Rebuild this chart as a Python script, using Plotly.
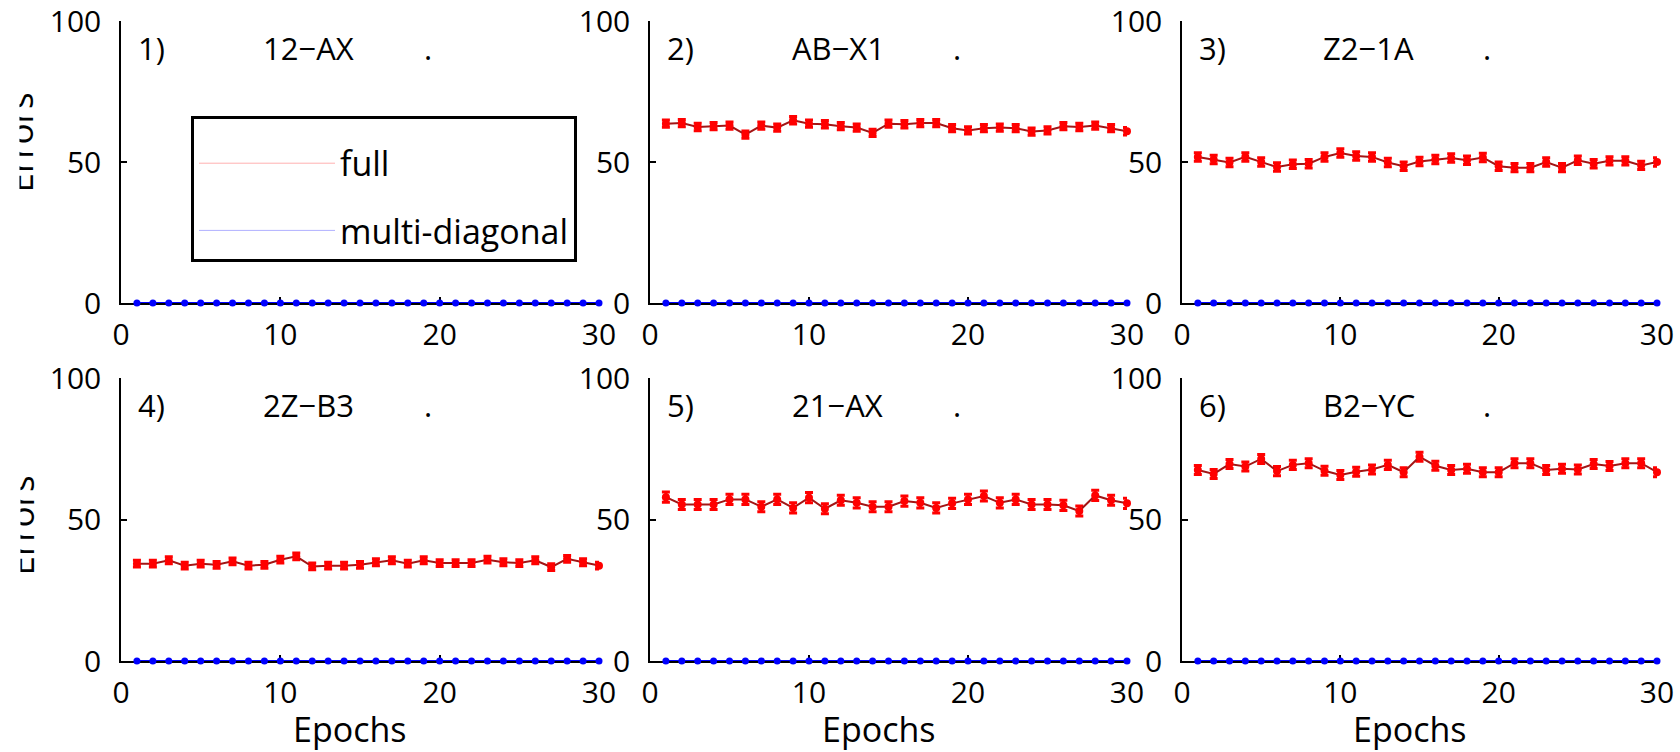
import plotly.graph_objects as go

# ---------------- data ----------------
epochs = list(range(1, 31))

panel_numbers = ["1)", "2)", "3)", "4)", "5)", "6)"]
panel_names = ["12\u2212AX", "AB\u2212X1", "Z2\u22121A", "2Z\u2212B3", "21\u2212AX", "B2\u2212YC"]

full_p1 = []  # panel 1 shows no "full" curve
full_p2 = [63.6, 63.8, 62.4, 62.7, 62.9, 59.7, 62.9, 62.2, 64.8, 63.6,
           63.4, 62.7, 62.2, 60.3, 63.6, 63.4, 63.8, 63.8, 62.0, 61.2,
           62.0, 62.2, 62.0, 60.8, 61.2, 62.7, 62.4, 62.9, 62.0, 60.9]
full_p3 = [51.8, 50.9, 49.8, 51.8, 50.0, 48.2, 49.2, 49.4, 51.8, 53.2,
           52.1, 51.8, 49.8, 48.5, 50.2, 50.9, 51.4, 50.6, 51.6, 48.5,
           48.0, 48.0, 50.0, 48.0, 50.6, 49.4, 50.4, 50.4, 48.8, 50.0]
full_p4 = [34.4, 34.4, 35.6, 33.7, 34.4, 34.0, 35.2, 33.7, 34.0, 35.8,
           37.0, 33.4, 33.7, 33.7, 34.0, 34.9, 35.6, 34.4, 35.6, 34.6,
           34.6, 34.6, 35.8, 34.9, 34.6, 35.6, 33.2, 36.1, 34.9, 33.7]
full_p5 = [57.9, 55.3, 55.3, 55.3, 57.1, 57.1, 54.5, 57.1, 54.1, 57.7,
           53.8, 56.8, 55.9, 54.5, 54.5, 56.5, 55.9, 54.1, 55.7, 57.1,
           58.3, 55.9, 57.1, 55.3, 55.3, 55.0, 53.0, 58.5, 56.8, 55.7]
full_p6 = [67.5, 66.1, 69.6, 68.7, 71.4, 67.1, 69.3, 69.9, 67.2, 65.7,
           66.9, 67.7, 69.3, 66.7, 72.2, 69.0, 67.5, 67.9, 66.7, 66.7,
           69.9, 69.9, 67.5, 67.9, 67.7, 69.6, 68.9, 69.9, 69.9, 66.7]
full_series = [full_p1, full_p2, full_p3, full_p4, full_p5, full_p6]
full_error = [0.0, 1.3, 1.5, 1.2, 1.8, 1.6]

multi_diagonal = [0, 0, 0, 0, 0, 0, 0, 0, 0, 0,
                  0, 0, 0, 0, 0, 0, 0, 0, 0, 0,
                  0, 0, 0, 0, 0, 0, 0, 0, 0, 0]

x_ticks = [0, 10, 20, 30]
y_ticks = [0, 50, 100]

# ---------------- layout helpers ----------------
W, H = 1680, 752
FONT = "Open Sans"
col_px = [(121, 599), (650, 1127), (1182, 1657)]
row_px = [(21, 303), (378, 661)]  # (top, bottom)


def fx(px):
    return px / W


def fy(py):
    return 1 - py / H


fig = go.Figure()

RED = "#ff0000"
RED_LINE = "#a31515"
BLUE = "#0000ff"

for i in range(6):
    xa = "x" if i == 0 else f"x{i+1}"
    ya = "y" if i == 0 else f"y{i+1}"
    fig.add_trace(go.Scatter(
        x=epochs, y=multi_diagonal, mode="lines+markers",
        line=dict(color=BLUE, width=2), marker=dict(color=BLUE, size=7),
        xaxis=xa, yaxis=ya, showlegend=False, cliponaxis=False,
        name="multi-diagonal"))
    if full_series[i]:
        fig.add_trace(go.Scatter(
            x=epochs, y=full_series[i], mode="lines+markers",
            line=dict(color=RED_LINE, width=2),
            marker=dict(color=RED, size=8),
            error_y=dict(type="constant", value=full_error[i], color=RED,
                         thickness=3, width=4),
            xaxis=xa, yaxis=ya, showlegend=False, cliponaxis=False,
            name="full"))

# legend keys
fig.add_trace(go.Scatter(x=[None], y=[None], mode="lines", name="full",
                         line=dict(color="#ffb0b0", width=1),
                         legendgroup="a", xaxis="x", yaxis="y"))
fig.add_trace(go.Scatter(x=[None], y=[None], mode="lines", name="multi-diagonal",
                         line=dict(color="#b0b0ff", width=1),
                         legendgroup="b", xaxis="x", yaxis="y"))

layout = dict(
    width=W, height=H,
    margin=dict(l=0, r=0, t=0, b=0, autoexpand=False),
    paper_bgcolor="white", plot_bgcolor="white",
    font=dict(family=FONT, color="black", size=30),
    showlegend=True,
    legend=dict(x=fx(191), y=fy(116), xanchor="left", yanchor="top",
                bordercolor="black", borderwidth=3, bgcolor="white",
                font=dict(family=FONT, size=34, color="black"),
                title=dict(text="\u00a0", font=dict(size=12)),
                itemwidth=136, tracegroupgap=20, traceorder="grouped"),
)

annotations = []
for i in range(6):
    r, c = divmod(i, 3)
    sfx = "" if i == 0 else str(i + 1)
    x0, x1 = col_px[c]
    top, bot = row_px[r]
    axis_common = dict(showline=True, linecolor="black", linewidth=1.5,
                       ticks="inside", ticklen=6, tickwidth=1.5, tickcolor="black",
                       showgrid=False, zeroline=False, layer="below traces",
                       ticklabeloverflow="allow",
                       tickfont=dict(family=FONT, size=30, color="black"))
    layout["xaxis" + sfx] = dict(domain=[fx(x0), fx(x1)], range=[0, 30],
                                 tickmode="array", tickvals=x_ticks,
                                 anchor="y" + sfx, ticklabelstandoff=4,
                                 **axis_common)
    layout["yaxis" + sfx] = dict(domain=[fy(bot), fy(top)], range=[0, 100],
                                 tickmode="array", tickvals=y_ticks,
                                 anchor="x" + sfx, ticklabelstandoff=12,
                                 **axis_common)
    for xt, txt in ((0.95, panel_numbers[i]), (8.8, panel_names[i]), (18.9, ".")):
        annotations.append(dict(x=xt, y=90.5, xref="x" + sfx, yref="y" + sfx,
                                text=txt, showarrow=False, xanchor="left",
                                yanchor="middle",
                                font=dict(family=FONT, size=31, color="black")))
    if r == 1:
        annotations.append(dict(x=0.5, y=fy(729), xref=f"x{sfx} domain",
                                yref="paper", text="Epochs", showarrow=False,
                                xanchor="center", yanchor="middle", xshift=-10,
                                font=dict(family=FONT, size=34, color="black")))

for yc in (143, 526):
    annotations.append(dict(x=0, y=fy(yc), xref="paper", yref="paper",
                            text="Errors", showarrow=False, textangle=-90,
                            xanchor="left", yanchor="middle", xshift=18,
                            height=23, valign="bottom",
                            font=dict(family=FONT, size=35, color="black")))

layout["annotations"] = annotations
fig.update_layout(**layout)
fig.write_html(
    "out.html",
    config={"displayModeBar": False},
    post_script="document.body.style.margin='0';document.body.style.overflow='hidden';",
)
